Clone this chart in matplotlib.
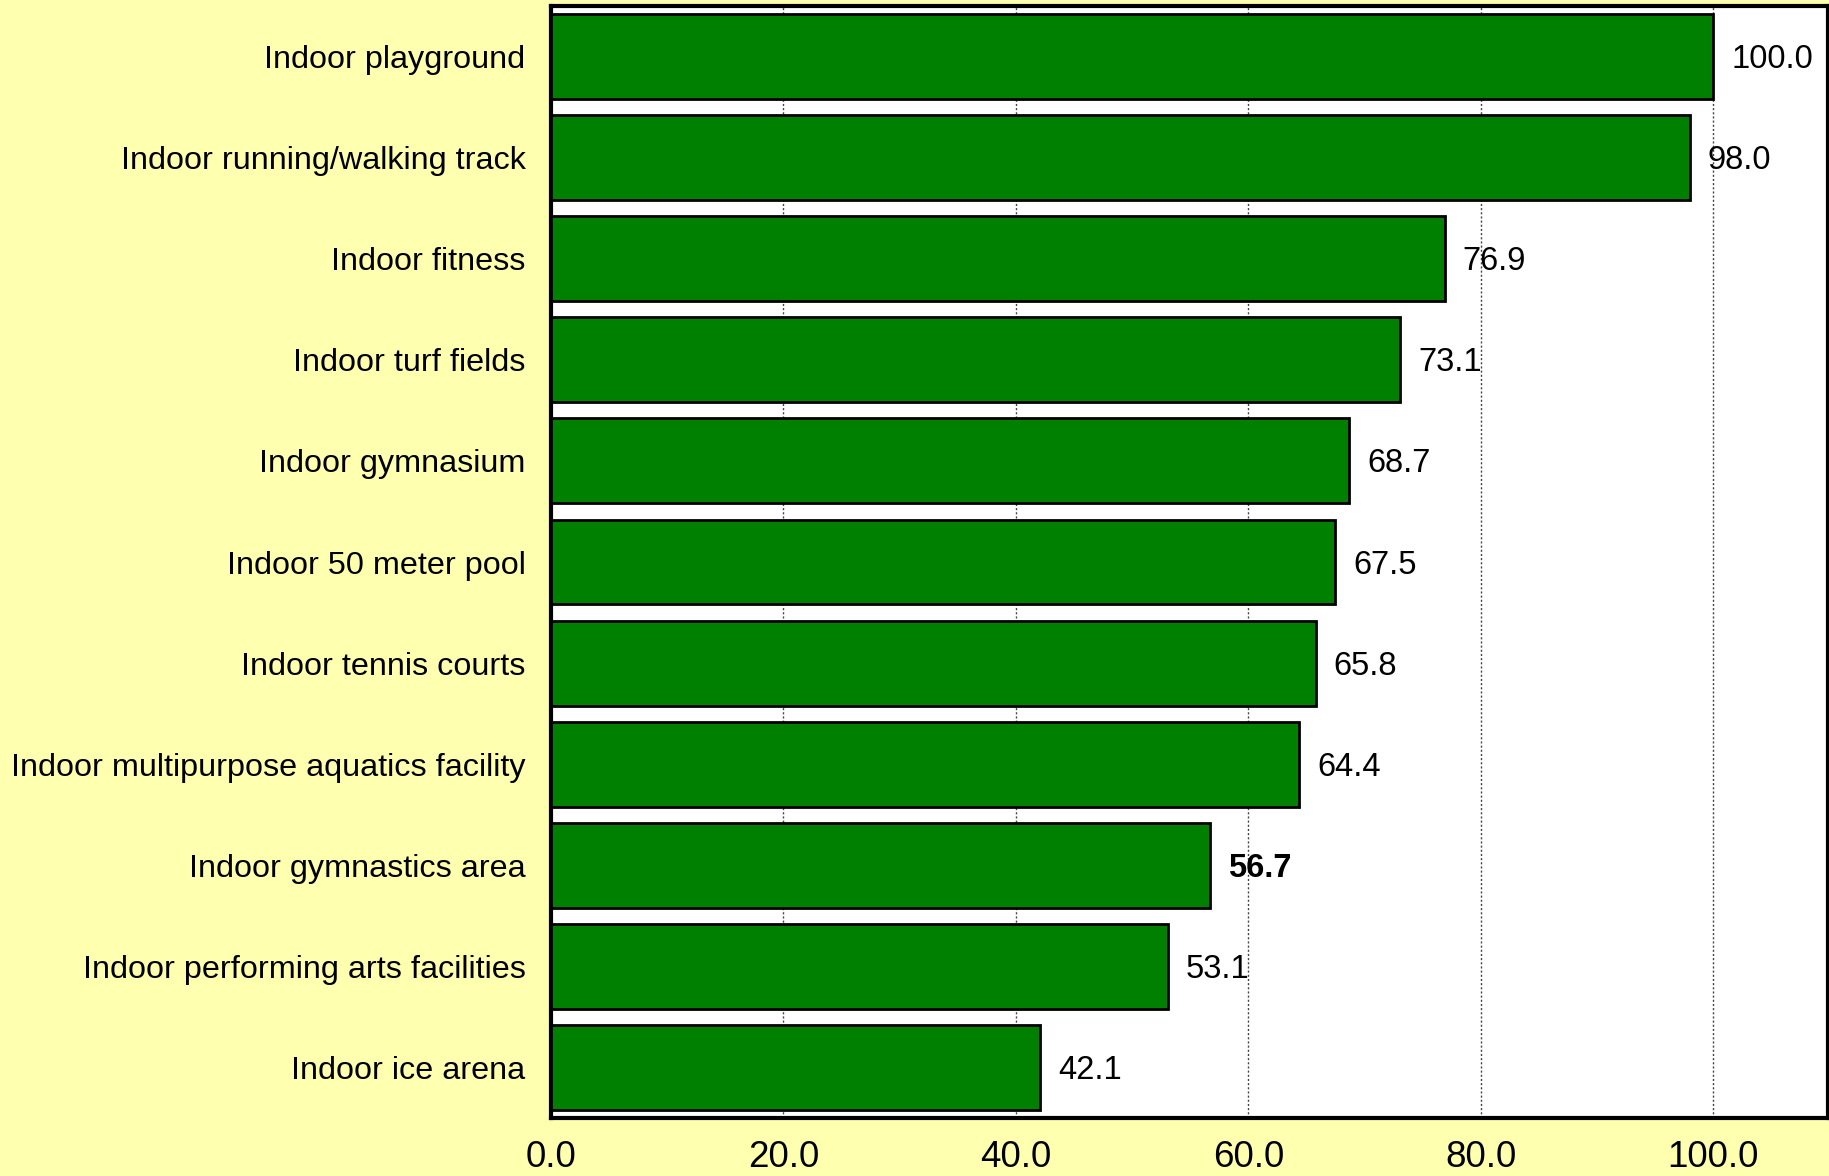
import matplotlib.pyplot as plt
import numpy as np

categories = [
    "Indoor playground",
    "Indoor running/walking track",
    "Indoor fitness",
    "Indoor turf fields",
    "Indoor gymnasium",
    "Indoor 50 meter pool",
    "Indoor tennis courts",
    "Indoor multipurpose aquatics facility",
    "Indoor gymnastics area",
    "Indoor performing arts facilities",
    "Indoor ice arena",
]
values = [100.0, 98.0, 76.9, 73.1, 68.7, 67.5, 65.8, 64.4, 56.7, 53.1, 42.1]
highlight = "Indoor gymnastics area"
xticks = [0, 20, 40, 60, 80, 100]

plt.rcParams["font.family"] = ["Liberation Sans", "DejaVu Sans"]

fig = plt.figure(figsize=(18.29, 11.76), dpi=100, facecolor="#FFFFB0")
ax = fig.add_axes([0.3013, 0.0493, 0.6982, 0.9456])
ax.set_facecolor("white")

y = np.arange(len(categories))
ax.barh(y, values, height=0.84, color="#008000", edgecolor="black",
        linewidth=2, zorder=3)

for yi, v, c in zip(y, values, categories):
    ax.annotate("{:.1f}".format(v), (v, yi), xytext=(18, -3),
                textcoords="offset pixels", va="center", ha="left",
                fontsize=23.5, zorder=4,
                fontweight="bold" if c == highlight else "normal")

ax.set_xlim(0, 109.9)
ax.set_ylim(len(categories) - 0.5, -0.5)
ax.set_yticks(y)
ax.set_yticklabels(categories, fontsize=23.3)
ax.set_xticks(xticks)
ax.set_xticklabels(["{:.1f}".format(t) for t in xticks], fontsize=26.5,
                   family=["Liberation Sans Narrow", "Liberation Sans"])
ax.tick_params(axis="both", length=0)
ax.tick_params(axis="y", pad=18.5)
ax.tick_params(axis="x", pad=16)
ax.xaxis.grid(True, linestyle=(0, (1.5, 1.5)), color="#444444",
              linewidth=1, zorder=0)
ax.set_axisbelow(True)
for s in ax.spines.values():
    s.set_linewidth(3)
    s.set_color("black")

fig.savefig("out.png", dpi=100, facecolor=fig.get_facecolor())
plt.close(fig)
